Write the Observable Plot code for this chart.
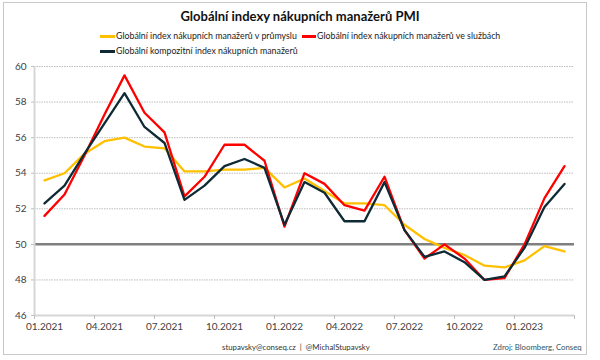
<!DOCTYPE html>
<html>
<head>
<meta charset="utf-8">
<script src="https://cdn.jsdelivr.net/npm/d3@7"></script>
<script src="https://cdn.jsdelivr.net/npm/@observablehq/plot@0.6"></script>
<style>
  html, body { margin: 0; padding: 0; background: #fff; }
  #wrap { position: relative; width: 600px; height: 360px; font-family: Lato, "Liberation Sans", sans-serif; overflow: hidden; }
  #frame { position: absolute; left: 3px; top: 2px; width: 584px; height: 353px; border: 1px solid #c8c8c8; box-sizing: border-box; pointer-events: none; }
  #chart { position: absolute; left: 0; top: 0; }
  .title { position: absolute; left: 0; width: 600px; top: 8px; text-align: center; font-weight: bold; font-size: 13px; color: #111; }
  .leg { position: absolute; font-size: 8.8px; color: #222; white-space: nowrap; display: flex; align-items: center; line-height: 12px; }
  .sw { display: inline-block; width: 15px; height: 3px; margin-right: 1px; }
  .foot { position: absolute; font-size: 7.8px; white-space: nowrap; }
</style>
</head>
<body>
<div id="wrap">
  <div id="chart"></div>
  <div class="title">Globální indexy nákupních manažerů PMI</div>
  <div class="leg" style="left:100px; top:30px;"><span class="sw" style="background:#FFC000"></span>Globální index nákupních manažerů v průmyslu</div>
  <div class="leg" style="left:302px; top:30px;"><span class="sw" style="background:#FF0000;width:14px"></span>Globální index nákupních manažerů ve službách</div>
  <div class="leg" style="left:100px; top:45px;"><span class="sw" style="background:#0E2A35"></span>Globální kompozitní index nákupních manažerů</div>
  <div class="foot" style="left:222px; top:342px; color:#333;">stupavsky@conseq.cz &nbsp;|&nbsp; @MichalStupavsky</div>
  <div class="foot" style="left:493px; top:342px; color:#2E5566;">Zdroj: Bloomberg, Conseq</div>
  <div id="frame"></div>
</div>
<script>
const months = ["01.2021","02.2021","03.2021","04.2021","05.2021","06.2021","07.2021","08.2021","09.2021","10.2021","11.2021","12.2021",
                "01.2022","02.2022","03.2022","04.2022","05.2022","06.2022","07.2022","08.2022","09.2022","10.2022","11.2022","12.2022",
                "01.2023","02.2023","03.2023"];
const manufacturing = [53.6, 54.0, 55.1, 55.8, 56.0, 55.5, 55.4, 54.1, 54.1, 54.2, 54.2, 54.3, 53.2, 53.7, 53.0, 52.3, 52.3, 52.2, 51.1, 50.3, 49.8, 49.4, 48.8, 48.7, 49.1, 49.9, 49.6];
const services = [51.6, 52.8, 55.0, 57.3, 59.5, 57.4, 56.3, 52.7, 53.8, 55.6, 55.6, 54.7, 51.0, 54.0, 53.4, 52.2, 51.9, 53.8, 50.8, 49.2, 50.0, 49.2, 48.0, 48.1, 50.0, 52.6, 54.4];
const composite = [52.3, 53.3, 55.1, 56.8, 58.5, 56.6, 55.7, 52.5, 53.3, 54.4, 54.8, 54.3, 51.1, 53.5, 52.9, 51.3, 51.3, 53.5, 50.8, 49.3, 49.6, 49.0, 48.0, 48.2, 49.8, 52.1, 53.4];
const xTickLabels = ["01.2021","04.2021","07.2021","10.2021","01.2022","04.2022","07.2022","10.2022","01.2023"];
const yTicks = [46, 48, 50, 52, 54, 56, 58, 60];
const gridValues = [48, 52, 54, 56, 58, 60];
const threshold = [50];

const labelIdx = xTickLabels.map(l => months.indexOf(l));
const boundaries = labelIdx.map(i => i - 0.5).concat([months.length - 0.5]);
const series = (vals, name) => vals.map((v, i) => ({i, v, name}));

const plot = Plot.plot({
  width: 600,
  height: 360,
  marginLeft: 34,
  marginRight: 26,
  marginTop: 66,
  marginBottom: 45,
  style: { fontFamily: "Lato, 'Liberation Sans', sans-serif", fontSize: "10px", color: "#404040", background: "transparent" },
  x: { domain: [-0.5, months.length - 0.5], label: null },
  y: { domain: [46, 60], label: null },
  marks: [
    Plot.ruleY(gridValues, { stroke: "#bdbdbd", strokeWidth: 1, strokeDasharray: "1.5,1" }),
    Plot.ruleY(threshold, { stroke: "#7f7f7f", strokeWidth: 2.5 }),
    Plot.ruleX([-0.5], { stroke: "#d6d6d6", strokeWidth: 2 }),
    Plot.ruleY([46], { stroke: "#d6d6d6", strokeWidth: 2 }),
    Plot.axisY(yTicks, { tickSize: 3, tickPadding: 5, stroke: "#bfbfbf", fill: "#404040", fontSize: 10, label: null }),
    Plot.axisX(boundaries, { tickSize: 4, stroke: "#bfbfbf", tickFormat: () => "", label: null }),
    Plot.axisX(labelIdx, { tickSize: 0, tickPadding: 7, tickFormat: i => months[i], fill: "#404040", fontSize: 10, label: null }),
    Plot.line(series(manufacturing, "m"), { x: "i", y: "v", stroke: "#FFC000", strokeWidth: 2.3 }),
    Plot.line(series(services, "s"), { x: "i", y: "v", stroke: "#FF0000", strokeWidth: 2.3 }),
    Plot.line(series(composite, "c"), { x: "i", y: "v", stroke: "#0E2A35", strokeWidth: 2.3 })
  ]
});
document.getElementById("chart").appendChild(plot);
</script>
</body>
</html>
